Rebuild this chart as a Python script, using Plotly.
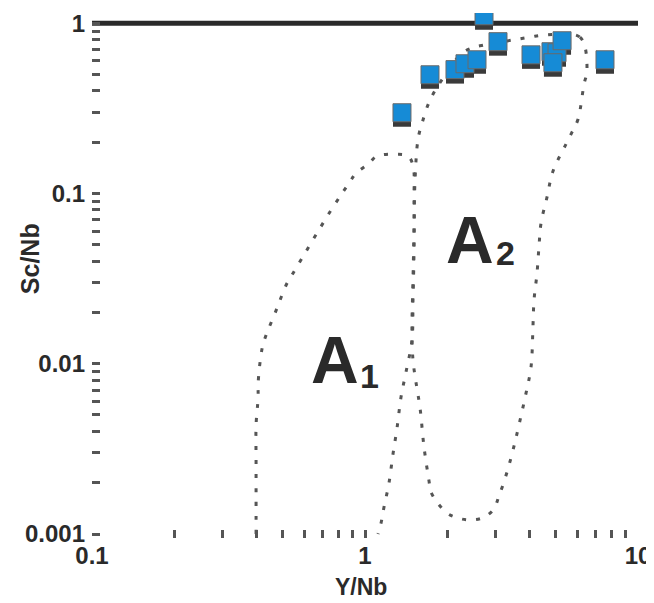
import math
import plotly.graph_objects as go

# ---- data ----
pt_x = [1.366, 1.73, 2.136, 2.324, 2.572, 2.729, 3.07, 4.056, 4.80, 5.05, 4.88, 5.27, 7.57]
pt_y = [0.298, 0.498, 0.534, 0.578, 0.610, 1.106, 0.779, 0.652, 0.680, 0.671, 0.586, 0.789, 0.610]

a1_x = [0.399, 0.399, 0.399, 0.399, 0.406, 0.406, 0.420, 0.434, 0.452, 0.476, 0.493,
        0.518, 0.545, 0.751, 0.874, 0.927, 1.026, 1.106, 1.31, 1.437, 1.499, 1.512,
        1.512, 1.499, 1.486, 1.413, 1.355, 1.31, 1.266, 1.224, 1.174, 1.145, 1.116]
a1_y = [0.001, 0.00158, 0.00272, 0.00436, 0.00637, 0.00769, 0.01234, 0.01472, 0.0173,
        0.0212, 0.0246, 0.0297, 0.034, 0.0798, 0.115, 0.1316, 0.1486, 0.1656, 0.170,
        0.1656, 0.1466, 0.0913, 0.0465, 0.0236, 0.01376, 0.00893, 0.00637, 0.00419,
        0.00294, 0.00199, 0.00144, 0.00116, 0.001]

a2_x = [4.487, 6.13, 6.505, 6.342, 6.029, 5.732, 5.449, 4.882, 4.642, 4.413, 4.339,
        4.266, 4.16, 4.125, 4.056, 3.889, 3.635, 3.514, 3.313, 3.096, 2.943, 2.683,
        2.425, 2.192, 1.981, 1.745, 1.716, 1.645, 1.591, 1.537, 1.499, 1.486, 1.499,
        1.512, 1.525, 1.564, 1.618, 1.73, 1.963, 2.266, 2.507, 2.705, 4.022, 4.487]
a2_y = [0.850, 0.828, 0.530, 0.438, 0.273, 0.229, 0.1948, 0.1352, 0.0951, 0.0669, 0.049,
        0.034, 0.0236, 0.01686, 0.00955, 0.00672, 0.00413, 0.00328, 0.00231, 0.00167,
        0.00138, 0.00124, 0.00121, 0.00124, 0.00134, 0.00176, 0.00205, 0.00324, 0.00548,
        0.0078, 0.0105, 0.01575, 0.031, 0.0609, 0.1197, 0.2084, 0.2587, 0.353, 0.495,
        0.667, 0.723, 0.743, 0.828, 0.850]

ref_line_y = 1

x_tickvals = [0.1, 1, 10]
x_ticktext = ["0.1", "1", "10"]
y_tickvals = [0.001, 0.01, 0.1, 1]
y_ticktext = ["0.001", "0.01", "0.1", "1"]

x_title = "Y/Nb"
y_title = "Sc/Nb"

# field labels: (main letter, subscript, x, y of letter, x, y of subscript)
field_labels = [
    ("A", "1", 0.776, 0.0105, 1.043, 0.0085),
    ("A", "2", 2.425, 0.053, 3.257, 0.045),
]

# ---- styling ----
FONT = "Liberation Sans, Arial, sans-serif"
INK = "#2a2a2a"
DOT = "#555555"
PX_PER_DECADE_Y = 170.3
SHADOW = 10 ** (-5 / PX_PER_DECADE_Y)   # drop-shadow offset for the square markers
Y_RANGE = [-3 - 4 / PX_PER_DECADE_Y, 0.06]

x_minor = [m * 10 ** e for e in (-1, 0) for m in range(2, 10)]
y_minor = [m * 10 ** e for e in (-3, -2, -1) for m in range(2, 10)]

fig = go.Figure()

for cx, cy in ((a1_x, a1_y), (a2_x, a2_y)):
    fig.add_trace(go.Scatter(
        x=cx, y=cy, mode="lines", line_shape="spline",
        line=dict(color=DOT, width=3, dash="4px,10px"),
        hoverinfo="skip", showlegend=False))

fig.add_trace(go.Scatter(
    x=pt_x, y=[v * SHADOW for v in pt_y], mode="markers",
    marker=dict(symbol="square", size=18, color="#3a3a3a", line=dict(width=0)),
    hoverinfo="skip", showlegend=False))
fig.add_trace(go.Scatter(
    x=pt_x, y=pt_y, mode="markers",
    marker=dict(symbol="square", size=18, color="#168bd6",
                line=dict(width=1, color="#6a6a6a")),
    showlegend=False))

fig.add_shape(type="line", xref="paper", x0=0, x1=1, yref="y",
              y0=ref_line_y, y1=ref_line_y, line=dict(color=INK, width=5), layer="below")

for main, sub, mx, my, sx, sy in field_labels:
    fig.add_annotation(x=math.log10(mx), y=math.log10(my), xref="x", yref="y",
                       text=main, showarrow=False,
                       font=dict(family=FONT, size=66, color=INK, weight="bold"))
    fig.add_annotation(x=math.log10(sx), y=math.log10(sy), xref="x", yref="y",
                       text=sub, showarrow=False,
                       font=dict(family=FONT, size=34, color=INK, weight="bold"))

# axis titles (positions in paper units of the plot area)
fig.add_annotation(x=0.4927, y=-0.094, xref="paper", yref="paper", text=x_title,
                   showarrow=False, xanchor="center", yanchor="middle",
                   font=dict(family=FONT, size=23, color=INK, weight="bold"))
fig.add_annotation(x=-0.1136, y=0.533, xref="paper", yref="paper", text=y_title,
                   showarrow=False, xanchor="center", yanchor="middle", textangle=-90,
                   font=dict(family=FONT, size=25, color=INK, weight="bold"))

tick_font = dict(family=FONT, size=24, color=INK, weight="bold")

fig.update_xaxes(
    type="log", range=[-1, 1], showgrid=False, zeroline=False, showline=False,
    automargin=False,
    tickmode="array", tickvals=x_tickvals, ticktext=x_ticktext,
    ticks="inside", ticklen=8, tickwidth=3, tickcolor=DOT,
    minor=dict(tickmode="array", tickvals=x_minor, ticks="inside",
               ticklen=8, tickwidth=3, tickcolor=DOT, showgrid=False),
    tickfont=tick_font, ticklabelstandoff=1,
)
fig.update_yaxes(
    type="log", range=Y_RANGE, showgrid=False, zeroline=False, showline=False,
    automargin=False,
    tickmode="array", tickvals=y_tickvals, ticktext=y_ticktext,
    ticks="inside", ticklen=8, tickwidth=3, tickcolor=DOT,
    minor=dict(tickmode="array", tickvals=y_minor, ticks="inside",
               ticklen=8, tickwidth=3, tickcolor=DOT, showgrid=False),
    tickfont=tick_font, ticklabelstandoff=6,
)

# the page body adds an 8px offset, so the figure is 8px smaller than the window
fig.update_layout(
    width=646, height=595,
    margin=dict(l=84, r=16, t=5, b=65),
    paper_bgcolor="white", plot_bgcolor="white",
    showlegend=False,
)

fig.write_html("out.html")
